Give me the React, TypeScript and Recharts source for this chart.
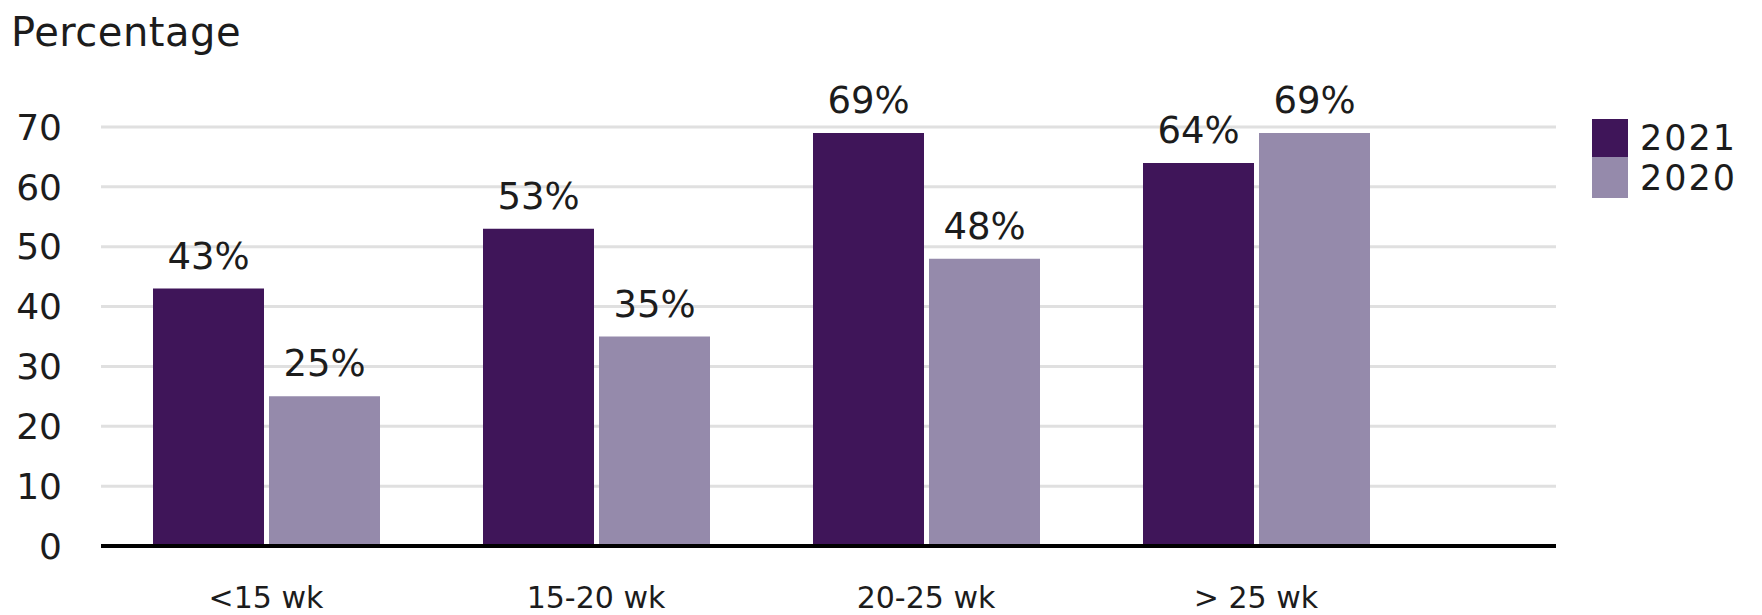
import { Bar, BarChart, CartesianGrid, LabelList, Legend, XAxis, YAxis } from "recharts";

const CATEGORIES = ["<15 wk", "15-20 wk", "20-25 wk", "> 25 wk"];
const VALUES_2021 = [43, 53, 69, 64];
const VALUES_2020 = [25, 35, 48, 69];
const Y_TICKS = [0, 10, 20, 30, 40, 50, 60, 70];

const SERIES = [
  { key: "y2021", name: "2021", color: "#3f1559" },
  { key: "y2020", name: "2020", color: "#958aab" },
];

const FONT = "'DejaVu Sans', sans-serif";
const INK = "#1c1c1c";

const data = CATEGORIES.map((cat, i) => ({
  cat,
  y2021: VALUES_2021[i],
  y2020: VALUES_2020[i],
}));

function LegendBox() {
  return (
    <div style={{ fontFamily: FONT }}>
      {SERIES.map((s, i) => (
        <div key={s.key} style={{ display: "flex", alignItems: "center", height: i === 0 ? 38 : 41 }}>
          <div style={{ width: 36, height: "100%", background: s.color }} />
          <span style={{ marginLeft: 12, fontSize: 35, letterSpacing: 2, color: INK, lineHeight: "36px" }}>
            {s.name}
          </span>
        </div>
      ))}
    </div>
  );
}

export default function App() {
  return (
    <div style={{ position: "absolute", left: 0, top: 0, width: 1762, height: 615, background: "#fff" }}>
      <div
        style={{
          position: "absolute",
          left: 11,
          top: 9,
          fontFamily: FONT,
          fontSize: 40,
          letterSpacing: 0.5,
          color: INK,
        }}
      >
        Percentage
      </div>
      <BarChart
        width={1762}
        height={615}
        data={data}
        margin={{ top: 127, right: 206, left: 0, bottom: 0 }}
        barSize={111}
        barGap={5}
      >
        <CartesianGrid horizontal vertical={false} stroke="#e0e0e0" strokeWidth={3} />
        <XAxis
          dataKey="cat"
          height={69}
          padding={{ left: 0, right: 135 }}
          axisLine={{ stroke: "#000", strokeWidth: 4 }}
          tickLine={false}
          tickMargin={35}
          tick={{ fill: INK, fontSize: 30, fontFamily: FONT }}
        />
        <YAxis
          width={101}
          domain={[0, 70]}
          ticks={Y_TICKS}
          interval={0}
          axisLine={false}
          tickLine={false}
          tickMargin={33}
          tick={{ fill: INK, fontSize: 36, fontFamily: FONT }}
        />
        <Legend
          layout="vertical"
          align="center"
          verticalAlign="middle"
          wrapperStyle={{ left: 1592, top: 119, width: 170 }}
          content={() => <LegendBox />}
        />
        {SERIES.map((s) => (
          <Bar key={s.key} dataKey={s.key} name={s.name} fill={s.color} isAnimationActive={false}>
            <LabelList
              dataKey={s.key}
              position="top"
              offset={20}
              formatter={(v: number) => `${v}%`}
              style={{ fill: INK, fontSize: 37, fontFamily: FONT }}
            />
          </Bar>
        ))}
      </BarChart>
    </div>
  );
}
